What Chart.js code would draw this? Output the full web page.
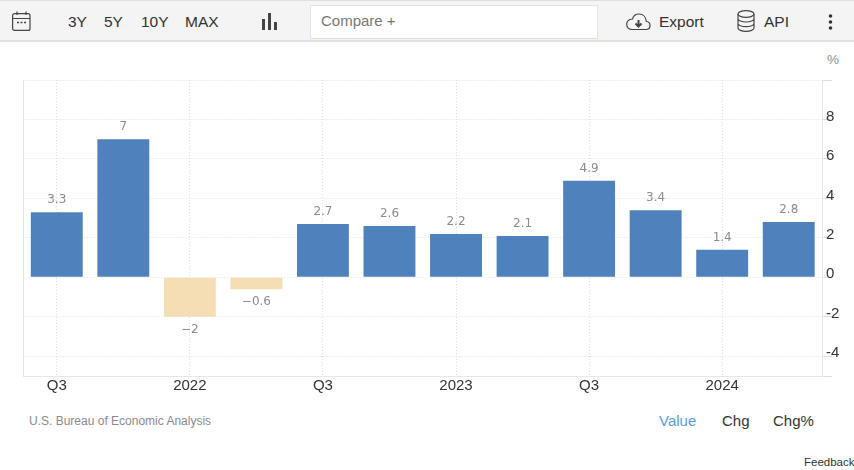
<!DOCTYPE html>
<html lang="en">

<head>
    <meta charset="UTF-8">
    <title>GDP Growth Rate</title>
    <script src="https://cdn.jsdelivr.net/npm/chart.js"></script>
    <style>
        html, body { margin: 0; padding: 0; background: #fff; }
        body { width: 854px; height: 470px; position: relative; overflow: hidden; font-family: "Liberation Sans", Arial, sans-serif; color: #333; }
        #toolbar { position: absolute; left: 0; top: 0; width: 854px; height: 42px; box-sizing: border-box; background: #f4f4f4; border-top: 1px solid #e0e0e0; border-bottom: 2px solid #e2e2e2; }
        #toolbar span, #toolbar svg, #compare { position: absolute; }
        #toolbar span { top: 12px; font-size: 15.5px; line-height: 18px; }
        #compare { left: 310px; top: 4px; width: 288px; height: 34px; box-sizing: border-box; background: #fff; border: 1px solid #e4e4dc; font-size: 15px; line-height: 30px; padding-left: 10px; color: #777; }
        #chartBox { position: absolute; left: 0; top: 42px; width: 854px; height: 354px; }
        .foot { position: absolute; }
        #unit { position: absolute; left: 827px; top: 52px; font-size: 13.5px; color: #8a8f96; }
    </style>
</head>

<body>
    <!-- toolbar -->
    <div id="toolbar">
        <svg style="left:12px;top:10px" width="19" height="21" viewBox="0 0 19 21" fill="none" stroke="#444" stroke-width="1.2">
            <rect x="0.6" y="2.6" width="17.4" height="16.8" rx="2"/>
            <path d="M0.6 7.5H18M5 0.5V4M14 0.5V4"/>
            <path d="M5 11.5h2M8.5 11.5h2M12 11.5h2" stroke-width="1.5"/>
        </svg>
        <span style="left:68px">3Y</span>
        <span style="left:104px">5Y</span>
        <span style="left:141px">10Y</span>
        <span style="left:185px">MAX</span>
        <svg style="left:261px;top:12px" width="16" height="17" viewBox="0 0 16 17" fill="#444">
            <rect x="1" y="6" width="3" height="11"/>
            <rect x="7" y="0" width="3" height="17"/>
            <rect x="13" y="9" width="3" height="8"/>
        </svg>
        <div id="compare">Compare +</div>
        <svg style="left:626px;top:12px" width="25" height="18" viewBox="0 0 25 18" fill="none" stroke="#444" stroke-width="1.2">
            <path d="M6 16.5H20c2.5 0 4-1.8 4-4s-1.6-3.8-3.6-4C20 4 17 1 13 1 9.5 1 7.3 3.2 6.5 6 3 6.3 0.7 8.5 0.7 11.300c0 3 2.300 5.200 5.300 5.200z"/>
            <path d="M12.500 7v5M9.500 10.500l3 3 3-3" stroke-width="2"/>
        </svg>
        <span style="left:659px">Export</span>
        <svg style="left:737px;top:9px" width="18" height="22" viewBox="0 0 18 22" fill="none" stroke="#444" stroke-width="1.2">
            <ellipse cx="9" cy="4" rx="8" ry="3.300"/>
            <path d="M1 4V18c0 1.800 3.600 3.300 8 3.300s8-1.500 8-3.300V4M1 8.700c0 1.800 3.600 3.300 8 3.300s8-1.500 8-3.300M1 13.400c0 1.800 3.600 3.300 8 3.300s8-1.500 8-3.300"/>
        </svg>
        <span style="left:764px">API</span>
        <svg style="left:828px;top:13px" width="5" height="16" viewBox="0 0 5 16" fill="#333">
            <circle cx="2.500" cy="2" r="1.800"/><circle cx="2.500" cy="8" r="1.800"/><circle cx="2.500" cy="14" r="1.800"/>
        </svg>
    </div>

    <div id="unit">%</div>

    <!-- plot -->
    <div id="chartBox"><canvas id="chartCanvas"></canvas></div>

    <div class="foot" style="left:29px;top:414px;font-size:12px;color:#8a8a8a">U.S. Bureau of Economic Analysis</div>
    <div class="foot" style="left:659px;top:412px;font-size:15px;color:#5b9bd8">Value</div>
    <div class="foot" style="left:722px;top:412px;font-size:15px">Chg</div>
    <div class="foot" style="left:773px;top:412px;font-size:15px">Chg%</div>
    <div class="foot" style="left:804px;top:456px;font-size:11.5px">Feedback</div>

    <script>
        const categories = ['Q3', '', '2022', '', 'Q3', '', '2023', '', 'Q3', '', '2024', ''];
        const growth = [3.3, 7, -2, -0.6, 2.7, 2.6, 2.2, 2.1, 4.9, 3.4, 1.4, 2.8];
        const yTicks = [8, 6, 4, 2, 0, -2, -4];

        const lineColor = '#e6e6e6';
        const dotColor = '#dedede';

        // value labels over the bars
        const valueLabels = {
            id: 'valueLabels',
            afterDatasetsDraw(chart) {
                const ctx = chart.ctx;
                ctx.save();
                ctx.font = '12px "DejaVu Sans"';
                ctx.fillStyle = '#8c8c8c';
                ctx.textAlign = 'center';
                chart.getDatasetMeta(0).data.forEach((bar, i) => {
                    const v = growth[i];
                    const text = String(v).replace('-', '\u2212');
                    if (v >= 0) {
                        ctx.textBaseline = 'bottom';
                        ctx.fillText(text, bar.x, bar.y - 6);
                    } else {
                        ctx.textBaseline = 'top';
                        ctx.fillText(text, bar.x, bar.y + 7);
                    }
                });
                ctx.restore();
            }
        };

        new Chart(document.getElementById('chartCanvas'), {
            type: 'bar',
            data: {
                labels: categories,
                datasets: [{
                    data: growth,
                    backgroundColor: growth.map(v => v < 0 ? '#f5deb3' : '#4f81bd'),
                    categoryPercentage: 1,
                    barPercentage: 0.78
                }]
            },
            plugins: [valueLabels],
            options: {
                responsive: true,
                maintainAspectRatio: false,
                animation: false,
                layout: { padding: { left: 0, right: 0, top: 38, bottom: 0 } },
                plugins: { legend: { display: false }, tooltip: { enabled: false } },
                scales: {
                    x: {
                        offset: true,
                        grid: {
                            offset: false,
                            color: ctx => categories[ctx.index] ? dotColor : 'transparent',
                            drawTicks: false
                        },
                        border: { color: lineColor, dash: [1, 2] },
                        ticks: { autoSkip: false, maxRotation: 0, padding: 1, color: '#333', font: { family: '"Liberation Sans"', size: 15 } }
                    },
                    y: {
                        position: 'right',
                        min: -5,
                        max: 10,
                        grid: { color: dotColor, tickLength: 10 },
                        border: { color: lineColor, dash: [1, 2] },
                        afterBuildTicks: axis => {
                            axis.ticks = [10, ...yTicks, -5].map(value => ({ value }));
                        },
                        afterFit: axis => { axis.width = 32; },
                        ticks: {
                            padding: -6,
                            labelOffset: -3,
                            color: '#333',
                            font: { family: '"Liberation Sans"', size: 15 },
                            callback: v => yTicks.includes(v) ? v : ''
                        }
                    },
                    // left edge of the frame
                    yLeft: {
                        position: 'left',
                        min: -5,
                        max: 10,
                        grid: { drawOnChartArea: false, drawTicks: false },
                        border: { color: lineColor },
                        ticks: { display: false },
                        afterFit: axis => { axis.width = 23.5; }
                    }
                }
            }
        });
    </script>
</body>

</html>
